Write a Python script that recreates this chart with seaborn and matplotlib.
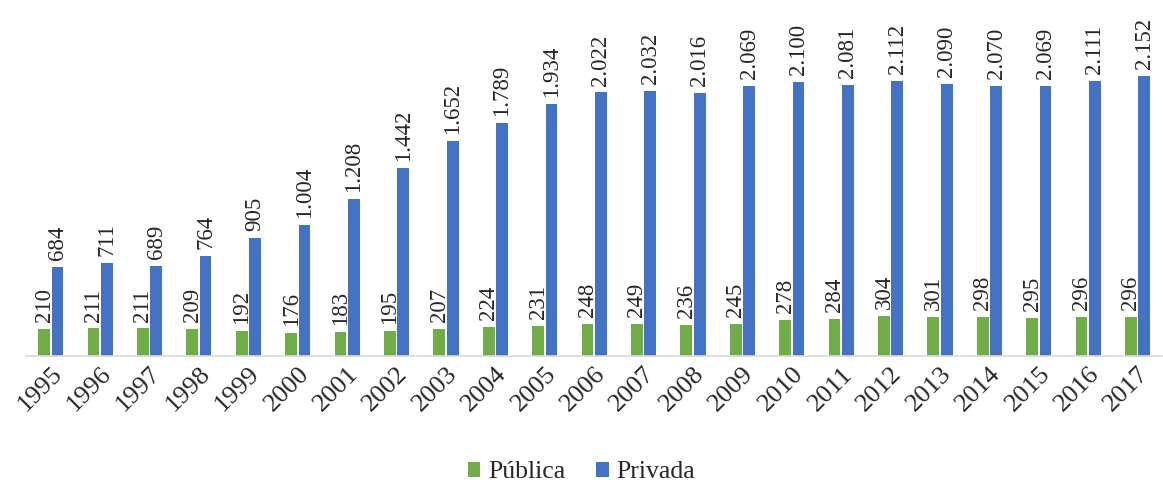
import pandas as pd
import matplotlib.pyplot as plt
import seaborn as sns

# -------------------- Data --------------------
years = [str(y) for y in range(1995, 2018)]
publica = [210, 211, 211, 209, 192, 176, 183, 195, 207, 224, 231, 248,
           249, 236, 245, 278, 284, 304, 301, 298, 295, 296, 296]
privada = [684, 711, 689, 764, 905, 1004, 1208, 1442, 1652, 1789, 1934, 2022,
           2032, 2016, 2069, 2100, 2081, 2112, 2090, 2070, 2069, 2111, 2152]
series_names = ["Pública", "Privada"]
colors = ["#70AD47", "#4472C4"]

df = pd.DataFrame({
    "Ano": years * 2,
    "Valor": publica + privada,
    "Tipo": [series_names[0]] * len(years) + [series_names[1]] * len(years),
})

# -------------------- Style --------------------
sns.set_theme(style="white")
plt.rcParams["font.family"] = ["Liberation Serif", "DejaVu Serif"]

fig = plt.figure(figsize=(11.63, 4.87), dpi=100)
ax = fig.add_axes([0.0224, 0.269, 0.977, 0.669])

sns.barplot(data=df, x="Ano", y="Valor", hue="Tipo", palette=colors,
            width=0.54, gap=0.12, saturation=1, linewidth=0, ax=ax)

# value labels, pt-BR thousands separator
for cont in ax.containers:
    labels = [f"{int(b.get_height()):,}".replace(",", ".") for b in cont]
    ax.bar_label(cont, labels=labels, rotation=90, padding=5, fontsize=16.5)

ax.set_ylim(0, 2500)
ax.set_xlim(-0.5, len(years) - 0.5)
ax.set_xlabel("")
ax.set_ylabel("")
ax.set_yticks([])
ax.tick_params(axis="x", length=0, pad=5, labelsize=19)
for lbl in ax.get_xticklabels():
    lbl.set_rotation(45)
    lbl.set_ha("right")
    lbl.set_rotation_mode("anchor")

for side in ["top", "right", "left"]:
    ax.spines[side].set_visible(False)
ax.spines["bottom"].set_color("#D9D9D9")
ax.spines["bottom"].set_linewidth(1.2)

ax.legend_.remove()
handles, lab = ax.get_legend_handles_labels()
fig.legend(handles, lab, loc="center", bbox_to_anchor=(0.5, 0.03), ncol=2,
           frameon=False, fontsize=18.5, handlelength=0.5, handleheight=0.5,
           handletextpad=0.3, columnspacing=1.2)

plt.savefig("out.png", dpi=100)
plt.close()
